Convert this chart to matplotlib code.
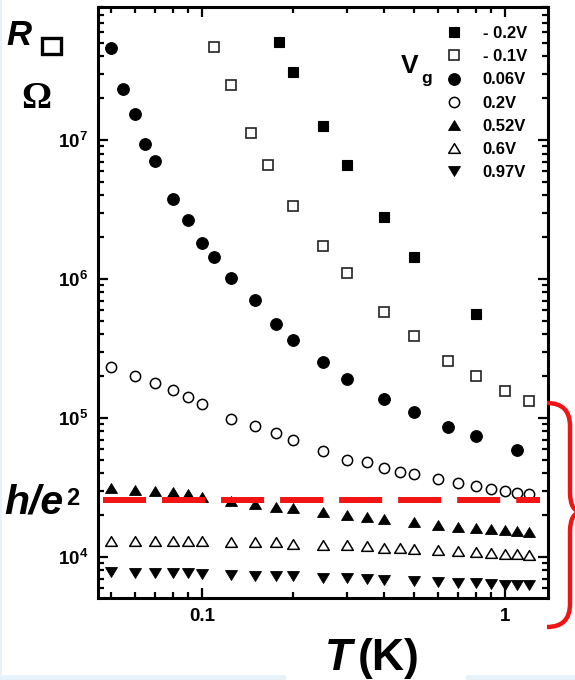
import matplotlib
matplotlib.use("Agg")
import matplotlib.pyplot as plt
import numpy as np
from matplotlib.patches import Rectangle, PathPatch
from matplotlib.path import Path
from matplotlib.ticker import FixedLocator, LogLocator, FuncFormatter, NullFormatter

plt.rcParams["font.family"] = ["Liberation Sans", "DejaVu Sans"]
plt.rcParams["font.weight"] = "bold"
plt.rcParams["mathtext.fontset"] = "custom"
plt.rcParams["mathtext.rm"] = "Liberation Sans:bold"
plt.rcParams["mathtext.bf"] = "Liberation Sans:bold"
plt.rcParams["mathtext.it"] = "Liberation Sans:bold:italic"

# ---- sheet resistance R (Ohm) vs temperature T (K) for several gate voltages ----
labels = ["- 0.2V", "- 0.1V", "0.06V", "0.2V", "0.52V", "0.6V", "0.97V"]

T_m02 = [0.18, 0.2, 0.25, 0.3, 0.4, 0.5, 0.8]
R_m02 = [5.09e7, 3.07e7, 1.26e7, 6.61e6, 2.78e6, 1.44e6, 5.57e5]

T_m01 = [0.11, 0.125, 0.145, 0.165, 0.2, 0.25, 0.3, 0.4, 0.5, 0.65, 0.8, 1.0, 1.2]
R_m01 = [4.64e7, 2.49e7, 1.12e7, 6.61e6, 3.35e6, 1.73e6, 1.10e6, 5.82e5, 3.91e5,
         2.58e5, 2.00e5, 1.57e5, 1.33e5]

T_006 = [0.05, 0.055, 0.06, 0.065, 0.07, 0.08, 0.09, 0.1, 0.11, 0.125, 0.15, 0.175,
         0.2, 0.25, 0.3, 0.4, 0.5, 0.65, 0.8, 1.1]
R_006 = [4.57e7, 2.32e7, 1.53e7, 9.36e6, 7.10e6, 3.74e6, 2.66e6, 1.82e6, 1.45e6,
         1.01e6, 7.06e5, 4.75e5, 3.64e5, 2.53e5, 1.92e5, 1.36e5, 1.10e5, 8.57e4,
         7.42e4, 5.89e4]

T_02 = [0.05, 0.06, 0.07, 0.08, 0.09, 0.1, 0.125, 0.15, 0.175, 0.2, 0.25, 0.3, 0.35,
        0.4, 0.45, 0.5, 0.6, 0.7, 0.8, 0.9, 1.0, 1.1, 1.2]
R_02 = [2.34e5, 2.02e5, 1.79e5, 1.59e5, 1.42e5, 1.26e5, 9.84e4, 8.71e4, 7.84e4,
        6.95e4, 5.79e4, 5.01e4, 4.80e4, 4.39e4, 4.11e4, 3.97e4, 3.62e4, 3.43e4,
        3.24e4, 3.10e4, 2.98e4, 2.90e4, 2.84e4]

T_052 = [0.05, 0.06, 0.07, 0.08, 0.09, 0.1, 0.125, 0.15, 0.175, 0.2, 0.25, 0.3, 0.35,
         0.4, 0.5, 0.6, 0.7, 0.8, 0.9, 1.0, 1.1, 1.2]
R_052 = [3.12e4, 3.03e4, 3.00e4, 2.95e4, 2.84e4, 2.71e4, 2.53e4, 2.41e4, 2.30e4,
         2.24e4, 2.12e4, 2.00e4, 1.94e4, 1.88e4, 1.79e4, 1.70e4, 1.65e4, 1.61e4,
         1.59e4, 1.56e4, 1.55e4, 1.52e4]

T_06 = [0.05, 0.06, 0.07, 0.08, 0.09, 0.1, 0.125, 0.15, 0.175, 0.2, 0.25, 0.3, 0.35,
        0.4, 0.45, 0.5, 0.6, 0.7, 0.8, 0.9, 1.0, 1.1, 1.2]
R_06 = [1.31e4, 1.31e4, 1.31e4, 1.31e4, 1.31e4, 1.31e4, 1.29e4, 1.29e4, 1.28e4,
        1.25e4, 1.23e4, 1.21e4, 1.19e4, 1.17e4, 1.17e4, 1.15e4, 1.12e4, 1.10e4,
        1.09e4, 1.07e4, 1.05e4, 1.045e4, 1.03e4]

T_097 = [0.05, 0.06, 0.07, 0.08, 0.09, 0.1, 0.125, 0.15, 0.175, 0.2, 0.25, 0.3, 0.35,
         0.4, 0.5, 0.6, 0.7, 0.8, 0.9, 1.0, 1.1, 1.2]
R_097 = [7.84e3, 7.63e3, 7.63e3, 7.63e3, 7.63e3, 7.55e3, 7.43e3, 7.35e3, 7.27e3,
         7.27e3, 7.10e3, 7.03e3, 6.95e3, 6.84e3, 6.72e3, 6.64e3, 6.53e3, 6.47e3,
         6.40e3, 6.29e3, 6.29e3, 6.29e3]

R_Q = 25813.0           # resistance quantum h/e^2 (Ohm)
T_line = [0.0471, 1.305]

W, H = 575, 680
fig = plt.figure(figsize=(W / 100, H / 100), dpi=100, facecolor="#E8F2FB")


def fx(px):
    return px / W


def fy(py):
    return 1 - py / H


# white slide panels
fig.add_artist(Rectangle((fx(2), fy(675)), fx(573), 675 / H, transform=fig.transFigure,
                         facecolor="white", edgecolor="none", zorder=0))
fig.add_artist(Rectangle((fx(286), 0), fx(180), 10 / H, transform=fig.transFigure,
                         facecolor="white", edgecolor="none", zorder=0))

ax = fig.add_axes([fx(98), 82 / H, 450 / W, 591 / H])
ax.set_facecolor("white")
ax.set_xscale("log")
ax.set_yscale("log")

# flattened triangles
tri_up = Path([(-1, -0.83), (1, -0.83), (0, 0.83), (-1, -0.83)],
              [Path.MOVETO, Path.LINETO, Path.LINETO, Path.CLOSEPOLY])
tri_dn = Path([(-1, 0.83), (1, 0.83), (0, -0.83), (-1, 0.83)],
              [Path.MOVETO, Path.LINETO, Path.LINETO, Path.CLOSEPOLY])

series = [
    (T_m02, R_m02, dict(marker="s", ms=7.2, mfc="black", mec="black", mew=0.8)),
    (T_m01, R_m01, dict(marker="s", ms=6.8, mfc="white", mec="#222222", mew=1.2)),
    (T_006, R_006, dict(marker="o", ms=8.4, mfc="black", mec="black", mew=0.8)),
    (T_02, R_02, dict(marker="o", ms=7.4, mfc="white", mec="black", mew=1.1)),
    (T_052, R_052, dict(marker=tri_up, ms=8.6, mfc="black", mec="black", mew=0.6)),
    (T_06, R_06, dict(marker=tri_up, ms=8.4, mfc="white", mec="black", mew=1.1)),
    (T_097, R_097, dict(marker=tri_dn, ms=8.6, mfc="black", mec="black", mew=0.6)),
]
for (t, r, st), lab in zip(series, labels):
    ax.plot(t, r, linestyle="none", label=lab, zorder=3, **st)

# h/e^2 reference line
red = "#F21414"
lw_red = 4.3
ax.plot(T_line, [R_Q, R_Q], color=red, lw=lw_red, zorder=4,
        dashes=(31 / lw_red, 11.5 / lw_red), solid_capstyle="butt", dash_capstyle="butt")

ax.set_xlim(0.04539, 1.387)
ax.set_ylim(5070, 9.06e7)

ax.xaxis.set_major_locator(FixedLocator([0.1, 1.0]))
ax.xaxis.set_major_formatter(FuncFormatter(lambda v, p: "0.1" if v < 0.5 else "1"))
ax.xaxis.set_minor_locator(LogLocator(base=10, subs=np.arange(2, 10), numticks=20))
ax.xaxis.set_minor_formatter(NullFormatter())
ax.yaxis.set_major_locator(LogLocator(base=10, subs=(1.0,), numticks=20))
ax.yaxis.set_major_formatter(FuncFormatter(
    lambda v, p: r"$\mathrm{10^{%d}}$" % int(round(np.log10(v)))))
ax.yaxis.set_minor_locator(LogLocator(base=10, subs=np.arange(2, 10), numticks=20))
ax.yaxis.set_minor_formatter(NullFormatter())

ax.tick_params(which="both", direction="in", top=True, right=True, width=1.6,
               color="black", labelsize=13.5)
ax.tick_params(which="major", length=7.5)
ax.tick_params(which="minor", length=4)
ax.tick_params(axis="y", pad=7)
ax.tick_params(axis="x", pad=7)
for s in ax.spines.values():
    s.set_linewidth(2.2)

leg = ax.legend(loc="upper left", bbox_to_anchor=(fx(446), fy(26)),
                bbox_transform=fig.transFigure, frameon=False, fontsize=12,
                handlelength=1.0, handletextpad=1.2, labelspacing=0.49,
                borderpad=0, borderaxespad=0, numpoints=1)

# V_g heading of the legend
fig.text(fx(401), fy(73), "V", fontsize=19, ha="left", va="baseline")
fig.text(fx(421), fy(83), "g", fontsize=12.5, ha="left", va="baseline")

# axis titles
fig.text(fx(6), fy(45), "R", fontsize=25, style="italic", ha="left", va="baseline")
fig.add_artist(Rectangle((fx(41.5), fy(53.5)), 19 / W, 15 / H, transform=fig.transFigure,
                         fill=False, edgecolor="black", lw=2.4))
fig.text(fx(36), fy(108), "\u03a9", fontsize=27, family="Liberation Serif",
         ha="center", va="baseline")

fig.text(fx(4), fy(513), "h/e", fontsize=29.5, style="italic", ha="left", va="baseline")
fig.text(fx(66), fy(505), "2", fontsize=17, ha="left", va="baseline")

fig.text(fx(352), fy(670), "T", fontsize=32, style="italic", ha="right", va="baseline")
fig.text(fx(358), fy(670), "(K)", fontsize=32, ha="left", va="baseline")

# curly brace on the right
verts = [(547, 403), (570, 403), (570, 426), (570, 492), (570, 512), (582, 512),
         (570, 512), (570, 532), (570, 604), (570, 627), (547, 627)]
codes = [Path.MOVETO, Path.CURVE3, Path.CURVE3, Path.LINETO, Path.CURVE3, Path.CURVE3,
         Path.CURVE3, Path.CURVE3, Path.LINETO, Path.CURVE3, Path.CURVE3]
brace = Path([(fx(x), fy(y)) for x, y in verts], codes)
fig.add_artist(PathPatch(brace, transform=fig.transFigure, fill=False,
                         edgecolor=red, lw=3.2, capstyle="butt"))

fig.savefig("out.png", dpi=100, facecolor=fig.get_facecolor())
